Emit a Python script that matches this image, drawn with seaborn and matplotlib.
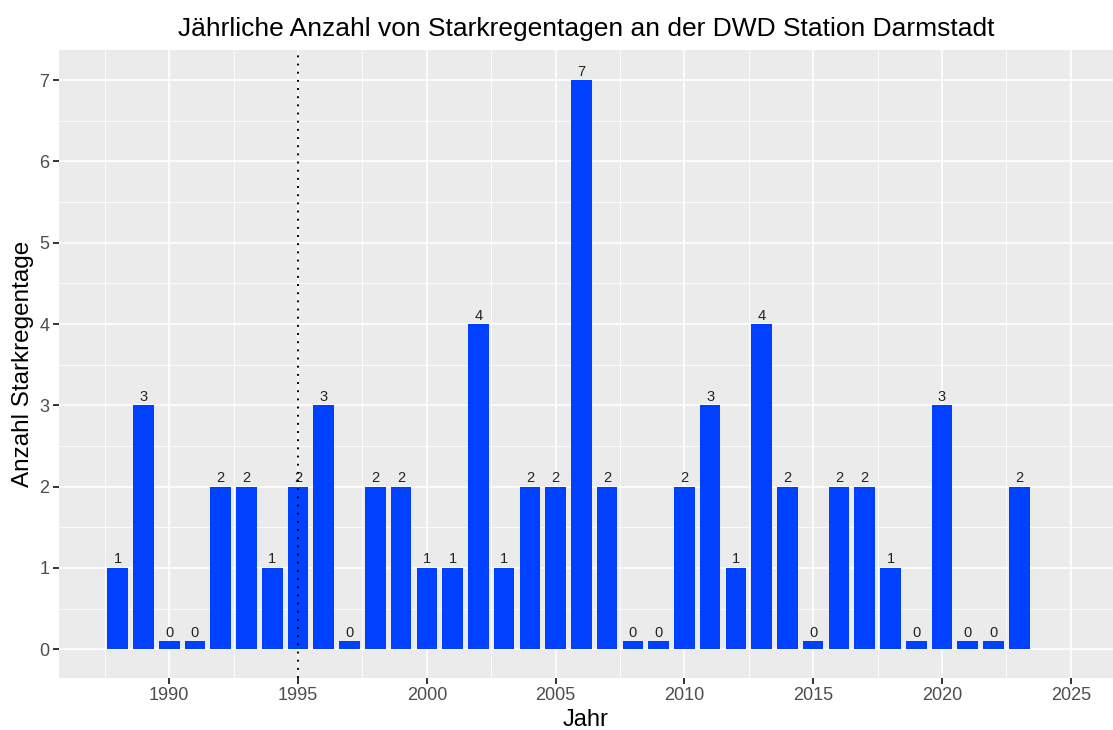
import numpy as np
import pandas as pd
import matplotlib
matplotlib.use("Agg")
import matplotlib.pyplot as plt
from matplotlib.ticker import MultipleLocator, FixedLocator
import seaborn as sns

# Jährliche Anzahl von Starkregentagen, DWD Station Darmstadt
jahre = [1988, 1989, 1990, 1991, 1992, 1993, 1994, 1995, 1996, 1997,
         1998, 1999, 2000, 2001, 2002, 2003, 2004, 2005, 2006, 2007,
         2008, 2009, 2010, 2011, 2012, 2013, 2014, 2015, 2016, 2017,
         2018, 2019, 2020, 2021, 2022, 2023]
anzahl = [1, 3, 0, 0, 2, 2, 1, 2, 3, 0,
          2, 2, 1, 1, 4, 1, 2, 2, 7, 2,
          0, 0, 2, 3, 1, 4, 2, 0, 2, 2,
          1, 0, 3, 0, 0, 2]
x_ticks = [1990, 1995, 2000, 2005, 2010, 2015, 2020, 2025]
y_ticks = [0, 1, 2, 3, 4, 5, 6, 7]
referenz_jahr = 1995

df = pd.DataFrame({"Jahr": jahre, "Anzahl": anzahl})
# years with zero days get a thin stub so they remain visible
df["Balken"] = df["Anzahl"].clip(lower=0.1)

sns.set_theme(style="darkgrid")
plt.rcParams["font.family"] = ["Liberation Sans", "DejaVu Sans"]

W, H = 1113, 730
fig = plt.figure(figsize=(W / 100, H / 100), dpi=100)
left, right, top, bottom = 59, 1113, 50, 677.7
ax = fig.add_axes([left / W, (H - bottom) / H, (right - left) / W, (bottom - top) / H])
ax.set_facecolor("#EBEBEB")

sns.barplot(data=df, x="Jahr", y="Balken", native_scale=True, width=0.8,
            color="#0040FF", saturation=1, edgecolor="none", ax=ax, zorder=2)

for j, n, b in zip(df["Jahr"], df["Anzahl"], df["Balken"]):
    ax.annotate(str(n), xy=(j, b), xytext=(0, 3.2), textcoords="offset points",
                ha="center", va="baseline", fontsize=10.5, color="#222222", zorder=3)

ax.axvline(referenz_jahr, color="black", linestyle=(0, (1, 3.2)), linewidth=1.4, zorder=4)

ax.set_xlim(1985.72, 2026.64)
ax.set_ylim(-0.35, 7.37)
ax.xaxis.set_major_locator(FixedLocator(x_ticks))
ax.xaxis.set_minor_locator(FixedLocator([t - 2.5 for t in x_ticks] + [2027.5]))
ax.yaxis.set_major_locator(FixedLocator(y_ticks))
ax.yaxis.set_minor_locator(MultipleLocator(0.5))
ax.set_xticklabels([str(t) for t in x_ticks])
ax.set_yticklabels([str(t) for t in y_ticks])

ax.grid(which="major", color="white", linewidth=1.2, zorder=0)
ax.grid(which="minor", color="white", linewidth=0.6, zorder=0)
ax.set_axisbelow(True)
for s in ax.spines.values():
    s.set_visible(False)

ax.tick_params(axis="both", which="major", length=4, width=1.4, color="#333333",
               labelsize=13, labelcolor="#4D4D4D", pad=3, bottom=True, left=True)
ax.tick_params(axis="both", which="minor", length=0)

ax.set_xlabel("Jahr", fontsize=17, color="black", labelpad=3)
ax.set_ylabel("Anzahl Starkregentage", fontsize=17.5, color="black", labelpad=4)
ax.set_title("Jährliche Anzahl von Starkregentagen an der DWD Station Darmstadt",
             fontsize=19, color="black", pad=10)

fig.savefig("out.png", dpi=100, facecolor="white")
